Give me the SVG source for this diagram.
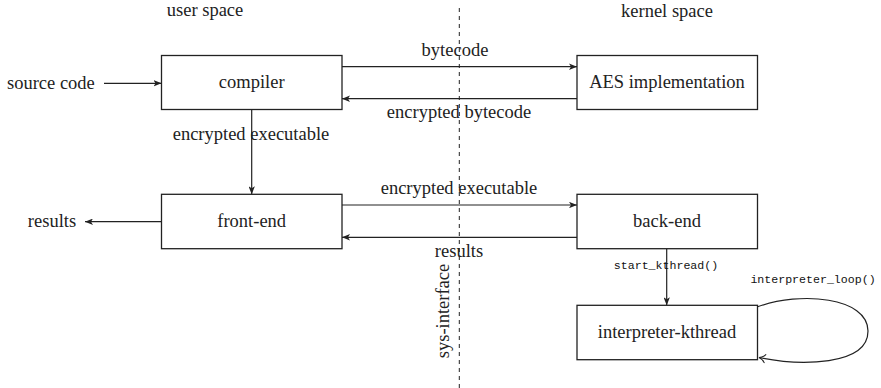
<svg xmlns="http://www.w3.org/2000/svg" width="881" height="388" viewBox="0 0 881 388">
  <style>
    .box { fill: #fff; stroke: #222; stroke-width: 1.3; }
    .lbl { font-family: "Liberation Serif", "Times New Roman", serif; font-size: 18.5px; fill: #222; }
    .mid { text-anchor: middle; }
    .start { text-anchor: start; }
    .mono { font-family: "Liberation Mono", "Courier New", monospace; font-size: 11.6px; fill: #111; }
    .edge { fill: none; stroke: #222; stroke-width: 1.2; }
    .sep { stroke: #222; stroke-width: 1; stroke-dasharray: 4 4; }
  </style>
  <defs>
    <marker id="head" viewBox="0 0 10 8" refX="10" refY="4" markerWidth="8" markerHeight="6.4" markerUnits="userSpaceOnUse" orient="auto">
      <path d="M0,0 L10,4 L0,8 L2.5,4 Z" fill="#222"/>
    </marker>
    <marker id="open" viewBox="0 0 10 12" refX="9" refY="6" markerWidth="8" markerHeight="9.6" markerUnits="userSpaceOnUse" orient="auto">
      <path d="M1,0.5 Q4,5 9,6 Q4,7 1,11.5" fill="none" stroke="#222" stroke-width="1.3"/>
    </marker>
  </defs>

  <rect width="881" height="388" fill="#fff"/>

  <!-- region captions and the user/kernel boundary -->
  <g id="regions">
    <text class="lbl mid" x="205" y="16">user space</text>
    <text class="lbl mid" x="667" y="17">kernel space</text>
    <line class="sep" x1="459.3" y1="8" x2="459.3" y2="388"/>
    <text class="lbl mid" transform="translate(449,311) rotate(-90)">sys-interface</text>
  </g>

  <!-- connectors -->
  <g id="connectors">
    <line class="edge" x1="104" y1="83.3" x2="161.5" y2="83.3" marker-end="url(#head)"/>
    <line class="edge" x1="342" y1="66.7" x2="577" y2="66.7" marker-end="url(#head)"/>
    <line class="edge" x1="577" y1="98.7" x2="342" y2="98.7" marker-end="url(#head)"/>
    <line class="edge" x1="251.7" y1="109.5" x2="251.7" y2="194.3" marker-end="url(#head)"/>
    <line class="edge" x1="342" y1="205" x2="577" y2="205" marker-end="url(#head)"/>
    <line class="edge" x1="577" y1="237.3" x2="342" y2="237.3" marker-end="url(#head)"/>
    <line class="edge" x1="161.5" y1="221.7" x2="85" y2="221.7" marker-end="url(#head)"/>
    <line class="edge" x1="666.7" y1="248.7" x2="666.7" y2="305.3" marker-end="url(#head)"/>
    <path class="edge" d="M757,307 C800,291 868,297 868,331 C868,366 800,366 759,357.5" marker-end="url(#open)"/>

    <text class="lbl start" x="7" y="88.5">source code</text>
    <text class="lbl mid" x="455" y="56">bytecode</text>
    <text class="lbl mid" x="459" y="117.5">encrypted bytecode</text>
    <text class="lbl mid" x="251" y="140">encrypted executable</text>
    <text class="lbl mid" x="459" y="194">encrypted executable</text>
    <text class="lbl mid" x="459" y="256.5">results</text>
    <text class="lbl mid" x="52" y="227">results</text>
    <text class="mono mid" x="666" y="269">start_kthread()</text>
    <text class="mono mid" x="813" y="283">interpreter_loop()</text>
  </g>

  <!-- nodes -->
  <g id="compiler">
    <rect class="box" x="161.5" y="55.5" width="180.5" height="54"/>
    <text class="lbl mid" x="251.7" y="88">compiler</text>
  </g>
  <g id="aes">
    <rect class="box" x="577" y="55.5" width="180.5" height="54"/>
    <text class="lbl mid" x="667" y="88">AES implementation</text>
  </g>
  <g id="front-end">
    <rect class="box" x="161.5" y="194.3" width="180.5" height="54.4"/>
    <text class="lbl mid" x="251.7" y="227">front-end</text>
  </g>
  <g id="back-end">
    <rect class="box" x="577" y="194.3" width="180.5" height="54.4"/>
    <text class="lbl mid" x="667" y="227">back-end</text>
  </g>
  <g id="interpreter-kthread">
    <rect class="box" x="577" y="305.3" width="180.5" height="54.4"/>
    <text class="lbl mid" x="667" y="338">interpreter-kthread</text>
  </g>
</svg>
